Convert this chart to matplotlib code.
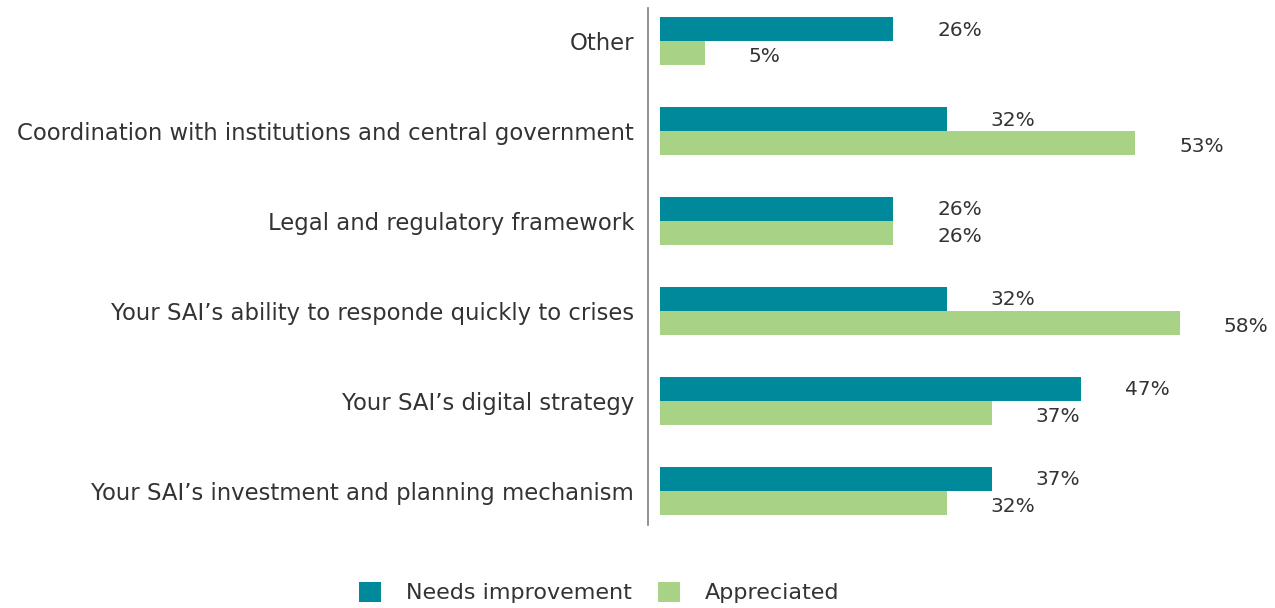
import numpy as np
import matplotlib
matplotlib.use("Agg")
import matplotlib.pyplot as plt

# Data (top to bottom as drawn)
categories = ["Other",
              "Coordination with institutions and central government",
              "Legal and regulatory framework",
              "Your SAI\u2019s ability to responde quickly to crises",
              "Your SAI\u2019s digital strategy",
              "Your SAI\u2019s investment and planning mechanism"]
needs_improvement = [26, 32, 26, 32, 47, 37]
appreciated = [5, 53, 26, 58, 37, 32]
series_names = ["Needs improvement", "Appreciated"]

teal = "#00899b"
green = "#a8d386"
text_col = "#333333"

plt.rcParams['font.family'] = ['DejaVu Sans']

fig = plt.figure(figsize=(12.75, 6.08), dpi=100)
ax = fig.add_axes([648 / 1275, 83 / 608, 1 - 648 / 1275, 517 / 608])

y = np.arange(len(categories))
h = 0.267

b1 = ax.barh(y - h / 2, needs_improvement, height=h, color=teal, label=series_names[0])
b2 = ax.barh(y + h / 2, appreciated, height=h, color=green, label=series_names[1])

# value labels
for yi, v in zip(y, needs_improvement):
    ax.text(v + 4.9, yi - h / 2 + 0.01, f"{v}%", va="center", ha="left",
            fontsize=14.5, color=text_col, clip_on=False)
for yi, v in zip(y, appreciated):
    ax.text(v + 4.9, yi + h / 2 + 0.04, f"{v}%", va="center", ha="left",
            fontsize=14.5, color=text_col, clip_on=False)

ax.set_xlim(-1.35, 68.6)
ax.set_ylim(5.38, -0.37)
ax.set_yticks(y)
ax.set_yticklabels(categories, fontsize=16.4, color=text_col)
ax.tick_params(axis="y", length=0, pad=10)
ax.set_xticks([])
for s in ["top", "right", "bottom"]:
    ax.spines[s].set_visible(False)
ax.spines["left"].set_color("#7f7f7f")
ax.spines["left"].set_linewidth(1.2)

fig.legend(handles=[b1, b2], labels=series_names, loc="lower center",
           bbox_to_anchor=(0.47, -0.025), ncol=2, frameon=False,
           fontsize=16, handlelength=1.0, handleheight=1.0,
           columnspacing=1.2, handletextpad=1.1,
           labelcolor=text_col)

fig.savefig("out.png", dpi=100)
